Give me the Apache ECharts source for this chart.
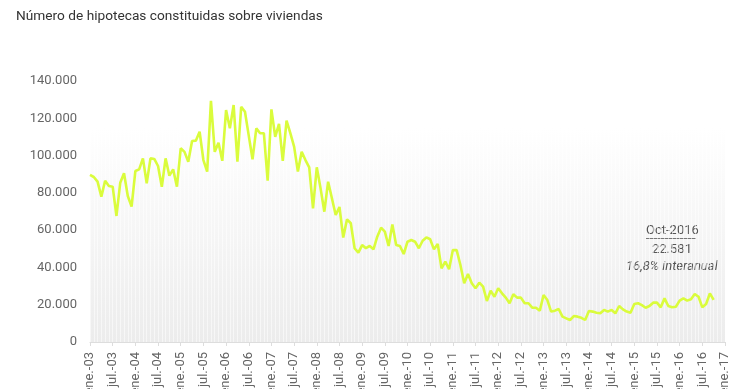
<!DOCTYPE html>
<html>
<head>
<meta charset="utf-8">
<script src="https://cdn.jsdelivr.net/npm/echarts@6/dist/echarts.min.js"></script>
<style>
html,body{margin:0;padding:0;background:#fff;}
#chart{width:740px;height:389px;}
</style>
</head>
<body>
<div id="chart"></div>
<script>
// Monthly categories: ene.-03 ... ene.-17
const monthNames = ['ene.', 'feb.', 'mar.', 'abr.', 'may.', 'jun.', 'jul.', 'ago.', 'sep.', 'oct.', 'nov.', 'dic.'];
const categories = [];
for (let y = 3; y <= 17; y++) {
  for (let m = 0; m < 12; m++) {
    if (y === 17 && m > 0) break;
    categories.push(monthNames[m] + '-' + String(y).padStart(2, '0'));
  }
}

// Number of mortgages on dwellings, Jan 2003 .. Oct 2016
const hipotecas = [
  89600, 88500, 86000, 78000, 86500, 83700, 83300, 67600, 85400, 90500, 78300, 72600,
  91700, 92600, 98500, 85100, 98500, 98200, 94400, 83300, 98500, 89200, 92600, 83300,
  103900, 102000, 96700, 107800, 108000, 112800, 97600, 91400, 129400, 102000, 106900, 97200,
  124400, 114600, 127100, 96700, 126200, 123500, 110700, 98000, 114600, 112000, 112000, 86500,
  124800, 110000, 117000, 97200, 118700, 112000, 104800, 91400, 102000, 97600, 93700, 71700,
  93700, 82400, 69900, 86000, 77100, 68100, 72400, 56000, 65800, 63700, 50300, 47900,
  52000, 50300, 51500, 49700, 56500, 61300, 59200, 51500, 63100, 52000, 51500, 47200,
  53800, 54700, 53800, 50300, 54300, 56100, 55100, 49700, 52600, 39500, 43100, 39000,
  49300, 49300, 41300, 31500, 36500, 31500, 28800, 31800, 29700, 22000, 27500, 24300,
  28800, 26100, 23800, 20800, 25600, 23800, 23800, 20800, 20800, 18400, 18400, 16800,
  25200, 22500, 16300, 16800, 17700, 13600, 12700, 11800, 13900, 13600, 13000, 11800,
  16600, 16300, 15700, 15400, 17200, 16300, 17200, 15400, 19300, 17500, 16300, 15700,
  20400, 20800, 19800, 18400, 19300, 21100, 21100, 18600, 23400, 19300, 18600, 18900,
  22200, 23400, 22200, 22900, 25700, 24300, 18600, 20400, 26100, 22581
];

const yTicks = [0, 20000, 40000, 60000, 80000, 100000, 120000, 140000];

const annotationLines = ['Oct-2016', '22.581', '16,8% interanual'];

function fmt(v) {
  return String(v).replace(/\B(?=(\d{3})+(?!\d))/g, '.');
}

const chart = echarts.init(document.getElementById('chart'), null, {renderer: 'canvas'});
const FONT = 'Roboto';
chart.setOption({
  animation: false,
  backgroundColor: '#fff',
  title: {
    text: 'Número de hipotecas constituidas sobre viviendas',
    left: 11, top: 5,
    textStyle: {fontFamily: FONT, fontSize: 13.7, fontWeight: 'normal', color: '#333'}
  },
  grid: {
    left: 90, right: 15, top: 81, bottom: 47,
    outerBoundsMode: 'none',
    containLabel: false,
    show: true, borderWidth: 0,
    backgroundColor: new echarts.graphic.LinearGradient(0, 0, 0, 1, [
      {offset: 0, color: '#ffffff'},
      {offset: 0.18, color: '#ffffff'},
      {offset: 1, color: '#ececec'}
    ])
  },
  xAxis: {
    type: 'category',
    data: categories,
    boundaryGap: false,
    axisLine: {lineStyle: {color: '#dddddd', width: 1}},
    axisTick: {show: true, interval: 5, length: 4, lineStyle: {color: '#dddddd'}},
    axisLabel: {
      interval: 5, rotate: 90, margin: 10,
      fontFamily: FONT, fontSize: 13, color: '#666'
    },
    splitLine: {show: true, interval: 0, lineStyle: {color: 'rgba(255,255,255,0.55)', width: 1}}
  },
  yAxis: {
    type: 'value',
    min: yTicks[0], max: yTicks[yTicks.length - 1], interval: 20000,
    axisLine: {show: false},
    axisTick: {show: false},
    splitLine: {show: false},
    axisLabel: {
      margin: 13, fontFamily: FONT, fontSize: 13, color: '#666',
      formatter: fmt
    }
  },
  series: [{
    type: 'line',
    data: hipotecas,
    symbol: 'none',
    lineStyle: {color: '#dafc3c', width: 2.6},
    itemStyle: {color: '#dafc3c'},
    z: 5
  }],
  graphic: [
    {type: 'text', left: 646, top: 224, style: {text: annotationLines[0], font: '13px Roboto', fill: '#555'}},
    {type: 'line', shape: {x1: 646, y1: 238.5, x2: 696, y2: 238.5}, style: {stroke: '#777', lineWidth: 1}},
    {type: 'text', left: 652, top: 243, style: {text: annotationLines[1], font: '13px Roboto', fill: '#555'}},
    {type: 'text', left: 626, top: 260, style: {text: annotationLines[2], font: 'italic 13px Roboto', fill: '#555'}}
  ]
});
</script>
</body>
</html>
